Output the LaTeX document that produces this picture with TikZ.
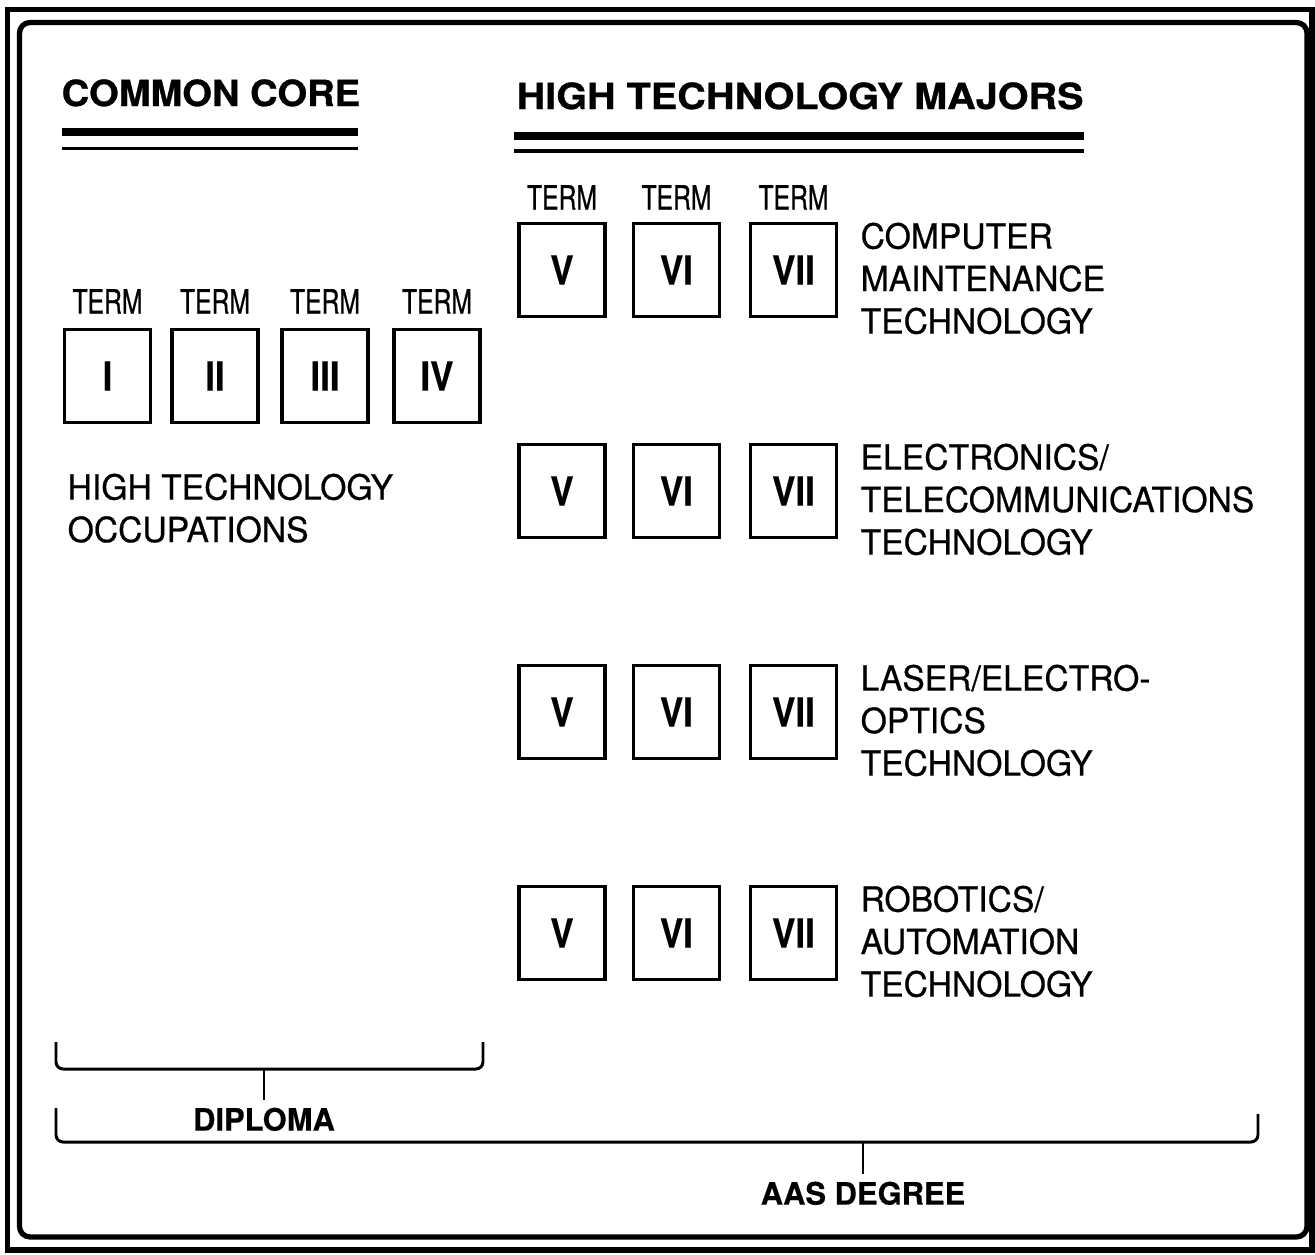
\documentclass[tikz,border=0pt]{standalone}
\usepackage{fontspec}
\setmainfont[FakeStretch=0.97, FakeBold=0.6]{TeX Gyre Heros}
\newfontfamily\headfont[FakeStretch=1.06, FakeBold=0.8]{TeX Gyre Heros}
\newfontfamily\wideheadfont[FakeStretch=1.10, FakeBold=0.8]{TeX Gyre Heros}
\newfontfamily\termfont[FakeStretch=0.74, FakeBold=0.7]{TeX Gyre Heros}
\newfontfamily\numfont[FakeStretch=0.87, FakeBold=0.4]{TeX Gyre Heros}
\newfontfamily\degfont[FakeStretch=1.0, FakeBold=0.4]{TeX Gyre Heros}
\usetikzlibrary{positioning}

\begin{document}
\begin{tikzpicture}[y=-1cm,
  frame/.style={line width=1.5pt},
  head/.style={anchor=base west, inner sep=0, font=\headfont\bfseries\fontsize{10.24}{12}\selectfont},
  termbox/.style={draw, line width=1.1pt, minimum width=0.86cm, minimum height=0.93cm,
                  inner sep=0, outer sep=0, font=\numfont\bfseries\fontsize{11.4}{13}\selectfont},
  termlbl/.style={inner sep=0, outer sep=0, font=\termfont\fontsize{9.5}{11}\selectfont},
  desc/.style={anchor=north west, inner sep=0, align=left, font=\fontsize{9.87}{12.09}\selectfont},
  brace/.style={line width=0.85pt, rounded corners=2pt},
  degree/.style={inner sep=0.07cm, anchor=north, font=\degfont\bfseries\fontsize{8.8}{10}\selectfont}
]
\useasboundingbox (0,0) rectangle (13.15,12.55);

% double frame
\draw[frame] (0.075,0.095) rectangle (13.12,12.50);
\draw[frame, rounded corners=3pt] (0.195,0.225) rectangle (13.07,12.37);

% headings
\node[head] (core) at (0.61,1.06) {COMMON CORE};
\node[head, font=\wideheadfont\bfseries\fontsize{10.24}{12}\selectfont] (majors) at (5.16,1.09) {HIGH TECHNOLOGY MAJORS};
\draw[line width=2.2pt] (0.62,1.32) -- (3.58,1.32);
\draw[line width=1.1pt] (0.62,1.485) -- (3.58,1.485);
\draw[line width=2.2pt] (5.14,1.36) -- (10.84,1.36);
\draw[line width=1.1pt] (5.14,1.51) -- (10.84,1.51);

% common core terms
\foreach \x/\n/\r in {1.075/1/I, 2.15/2/II, 3.25/3/III, 4.37/4/IV} {
  \node[termbox] (t\n) at (\x,3.76) {\r};
  \node[termlbl, above=0.16cm of t\n] (tl\n) {TERM};
}
\node[desc] (occ) at (0.67,4.73) {HIGH TECHNOLOGY\\OCCUPATIONS};

% majors
\foreach \y/\m in {2.70/cmt, 4.91/etc, 7.12/leo, 9.33/rat} {
  \node[termbox] (\m5) at (5.62,\y) {V};
  \node[termbox] (\m6) at (6.765,\y) {VI};
  \node[termbox] (\m7) at (7.935,\y) {VII};
}
\foreach \n in {5,6,7}
  \node[termlbl, above=0.14cm of cmt\n] (tl\n) {TERM};

\node[desc] (cmt) at (8.60,2.22) {COMPUTER\\MAINTENANCE\\TECHNOLOGY};
\node[desc] (etc) at (8.60,4.43) {ELECTRONICS/\\TELECOMMUNICATIONS\\TECHNOLOGY};
\node[desc] (leo) at (8.60,6.64) {LASER/ELECTRO-\\OPTICS\\TECHNOLOGY};
\node[desc] (rat) at (8.60,8.85) {ROBOTICS/\\AUTOMATION\\TECHNOLOGY};

% diploma / degree brackets
\draw[brace] (0.56,10.42) -- (0.56,10.69) -- (4.83,10.69) -- (4.83,10.42);
\coordinate (dipmid) at (2.64,10.69);
\node[degree] (dip) at (2.64,11.00) {DIPLOMA};
\draw[brace] (dipmid) -- (dip);

\draw[brace] (0.56,11.08) -- (0.56,11.42) -- (12.58,11.42) -- (12.58,11.14);
\coordinate (aasmid) at (8.63,11.42);
\node[degree] (aas) at (8.63,11.74) {AAS DEGREE};
\draw[brace] (aasmid) -- (aas);

\end{tikzpicture}
\end{document}
